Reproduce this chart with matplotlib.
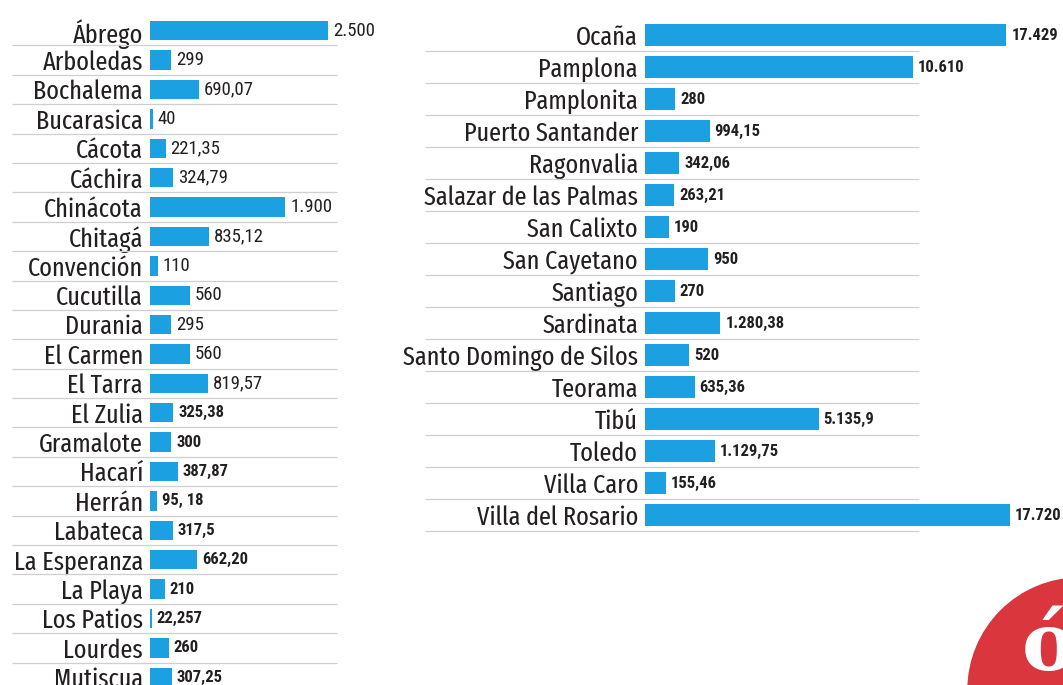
import numpy as np
import matplotlib.pyplot as plt
from matplotlib.patches import Circle
from matplotlib.transforms import IdentityTransform

plt.rcParams['font.family'] = ['Fira Sans Extra Condensed', 'DejaVu Sans']
VALUE_FONT = ['Roboto Condensed', 'DejaVu Sans']

# municipios, columna izquierda
left_names = ['Ábrego', 'Arboledas', 'Bochalema', 'Bucarasica', 'Cácota', 'Cáchira',
              'Chinácota', 'Chitagá', 'Convención', 'Cucutilla', 'Durania', 'El Carmen',
              'El Tarra', 'El Zulia', 'Gramalote', 'Hacarí', 'Herrán', 'Labateca',
              'La Esperanza', 'La Playa', 'Los Patios', 'Lourdes', 'Mutiscua']
left_values = [2500, 299, 690.07, 40, 221.35, 324.79, 1900, 835.12, 110, 560, 295, 560,
               819.57, 325.38, 300, 387.87, 95.18, 317.5, 662.20, 210, 22.257, 260, 307.25]
left_labels = ['2.500', '299', '690,07', '40', '221,35', '324,79', '1.900', '835,12', '110',
               '560', '295', '560', '819,57', '325,38', '300', '387,87', '95, 18', '317,5',
               '662,20', '210', '22,257', '260', '307,25']

# municipios, columna derecha
right_names = ['Ocaña', 'Pamplona', 'Pamplonita', 'Puerto Santander', 'Ragonvalia',
               'Salazar de las Palmas', 'San Calixto', 'San Cayetano', 'Santiago', 'Sardinata',
               'Santo Domingo de Silos', 'Teorama', 'Tibú', 'Toledo', 'Villa Caro',
               'Villa del Rosario']
right_values = [17429, 10610, 280, 994.15, 342.06, 263.21, 190, 950, 270, 1280.38, 520,
                635.36, 5135.9, 1129.75, 155.46, 17720]
right_labels = ['17.429', '10.610', '280', '994,15', '342,06', '263,21', '190', '950', '270',
                '1.280,38', '520', '635,36', '5.135,9', '1.129,75', '155,46', '17.720']

BLUE = '#1ba1e2'
INK = '#231f20'
GRID = '#cfcfcf'
W, H = 1063, 685

fig = plt.figure(figsize=(W / 100, H / 100), dpi=100)
fig.patch.set_facecolor('white')


def px_axes(x0, x1, ytop, ybot):
    return fig.add_axes([x0 / W, 1 - ybot / H, (x1 - x0) / W, (ybot - ytop) / H])


def draw_panel(ax, names, values, labels, line_x, lines_below_last, bold_from):
    n = len(names)
    y = np.arange(n)
    ax.barh(y, values, height=0.66, color=BLUE)
    for i in range(n):
        bold = i >= bold_from
        ax.annotate(labels[i], (values[i], i), xytext=(3.5, 0), textcoords='offset points',
                    va='center', ha='left', fontsize=12 if bold else 13.5, color=INK,
                    clip_on=False, family=VALUE_FONT,
                    fontweight='bold' if bold else 'normal')
    ax.set_ylim(n - 0.5, -0.5)
    ax.set_yticks(y)
    ax.set_yticklabels(names, fontsize=19, color=INK)
    ax.tick_params(axis='y', length=0, pad=5)
    ax.set_xticks([])
    for s in ax.spines.values():
        s.set_visible(False)
    ax.patch.set_alpha(0)
    nl = n if lines_below_last else n - 1
    ax.hlines(np.arange(nl) + 0.5, line_x[0], line_x[1], transform=ax.get_yaxis_transform(),
              colors=GRID, lw=0.9, clip_on=False)


# izquierda: escala lineal
axl = px_axes(150, 328, 16, 692)
axl.set_xlim(0, 2500)
draw_panel(axl, left_names, left_values, left_labels,
           ((12 - 150) / 178, (337 - 150) / 178), False, 13)

# derecha: escala comprimida
axr = px_axes(645, 1010, 19, 531)
axr.set_xscale('function', functions=(lambda x: np.power(np.clip(x, 0, None), 0.6),
                                      lambda x: np.power(np.clip(x, 0, None), 1 / 0.6)))
axr.set_xlim(0, 17720)
draw_panel(axr, right_names, right_values, right_labels,
           ((425 - 645) / 365, (919 - 645) / 365), True, 0)

# logo
logo = Circle((1080, H - 690), 112, transform=IdentityTransform(), color='#d9363e', zorder=5)
fig.add_artist(logo)
fig.text(1022 / W, 1 - 648 / H, 'ó', fontsize=58, fontweight='bold', family='DejaVu Serif',
         color='white', ha='left', va='center', zorder=6)

fig.savefig('out.png', dpi=100)
